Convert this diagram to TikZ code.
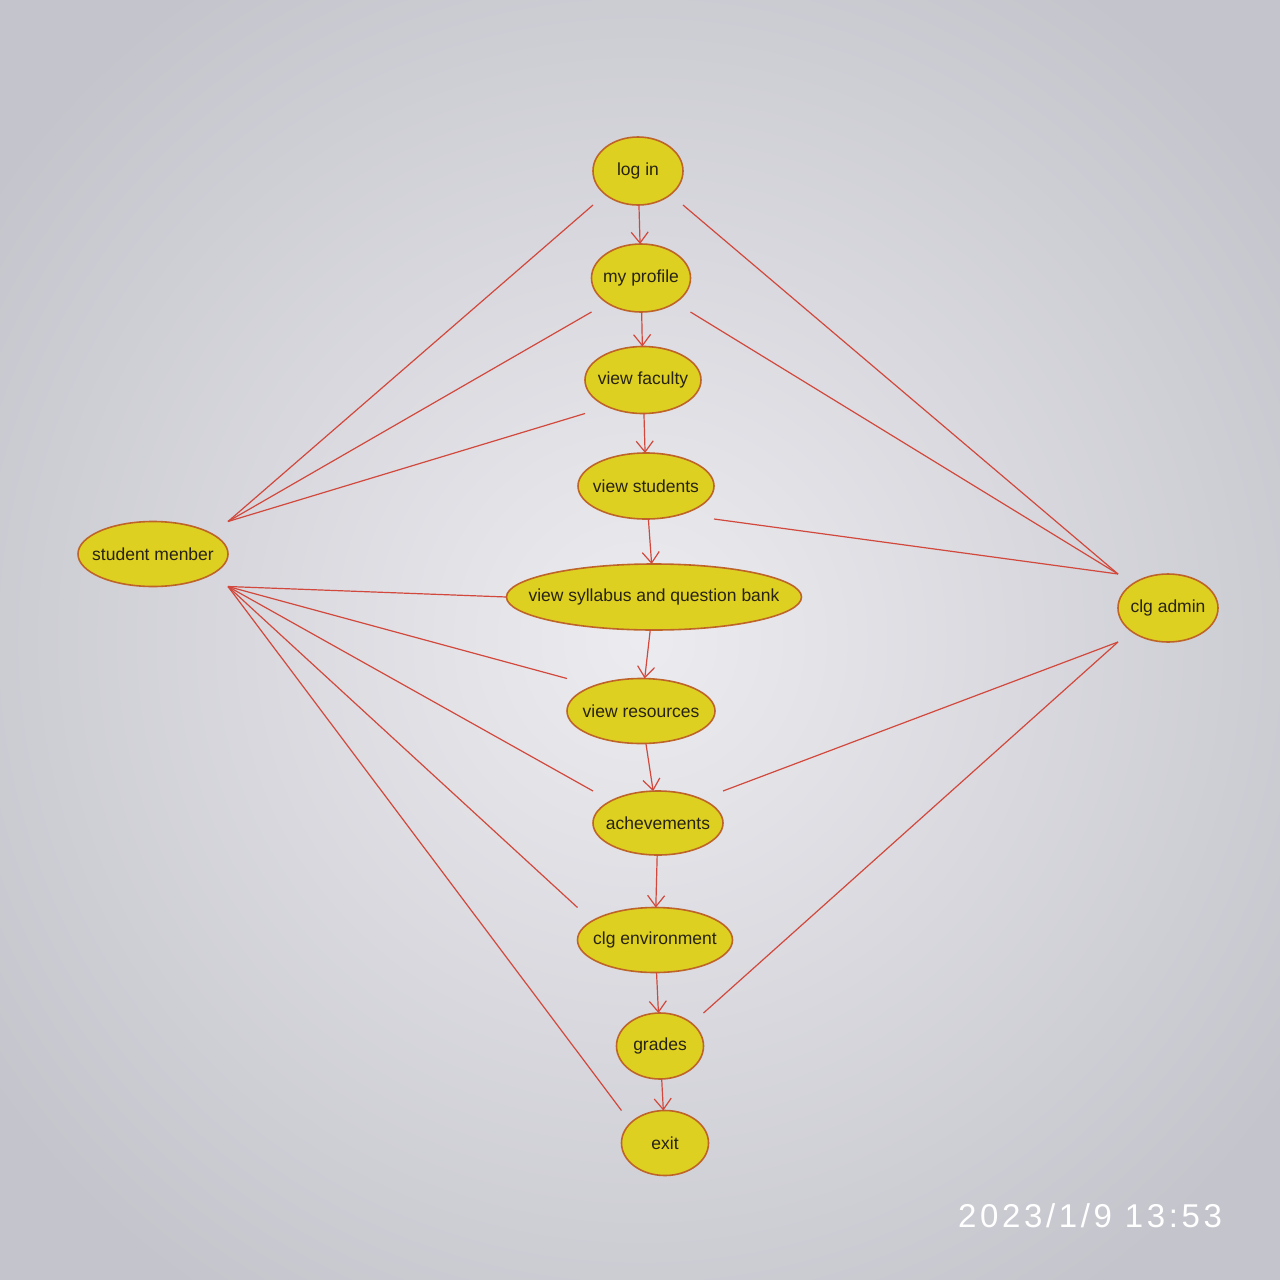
\documentclass[tikz,border=0pt]{standalone}
\usepackage{fontspec}
\setmainfont{Liberation Sans}
\newfontfamily\stampfont[LetterSpace=11]{Liberation Sans}
\usetikzlibrary{shapes.geometric,arrows.meta,calc}
\definecolor{ucfill}{RGB}{222,208,32}
\definecolor{ucdraw}{RGB}{190,100,40}
\definecolor{linkred}{RGB}{210,72,60}
\definecolor{bgin}{RGB}{236,236,240}
\definecolor{bgout}{RGB}{196,196,204}
\definecolor{txt}{RGB}{40,35,20}
\newcommand\zt[1]{\makebox[0pt]{#1}}
\begin{document}
\begin{tikzpicture}[x=1pt,y=-1pt,
  uc/.style={ellipse,draw=ucdraw,line width=1.6pt,fill=ucfill,inner sep=0pt,outer sep=0pt,
    font=\fontsize{17.5}{18}\selectfont,text=txt},
  link/.style={draw=linkred,line width=1.2pt},
  flow/.style={link,-{Straight Barb[length=11pt,width=17pt,line width=1.2pt]}}]
\useasboundingbox (0,0) rectangle (1280,1280);
\shade[inner color=bgin,outer color=bgout] (-150,-150) rectangle (1430,1430);

\node[uc,minimum width=90pt,minimum height=68pt] (login) at (638,171) {\zt{log in}};
\node[uc,minimum width=99pt,minimum height=68pt] (profile) at (641,278) {\zt{my profile}};
\node[uc,minimum width=116pt,minimum height=67pt] (faculty) at (643,380) {\zt{view faculty}};
\node[uc,minimum width=136pt,minimum height=66pt] (students) at (646,486) {\zt{view students}};
\node[uc,minimum width=295pt,minimum height=66pt] (syllabus) at (654,597) {\zt{view syllabus and question bank}};
\node[uc,minimum width=148pt,minimum height=65pt] (resources) at (641,711) {\zt{view resources}};
\node[uc,minimum width=130pt,minimum height=64pt] (achieve) at (658,823) {\zt{achevements}};
\node[uc,minimum width=155pt,minimum height=65pt] (env) at (655,940) {\zt{clg environment}};
\node[uc,minimum width=87pt,minimum height=66pt] (grades) at (660,1046) {\zt{grades}};
\node[uc,minimum width=87pt,minimum height=65pt] (exit) at (665,1143) {\zt{exit}};
\node[uc,minimum width=150pt,minimum height=65pt] (student) at (153,554) {\zt{student menber}};
\node[uc,minimum width=100pt,minimum height=68pt] (admin) at (1168,608) {\zt{clg admin}};

\node[text=white,font=\stampfont\fontsize{33}{33}\selectfont,anchor=west,inner sep=0pt] (stamp) at (958,1216) {2023/1/9 13:53};

% flow arrows
\draw[flow] (login) -- (profile);
\draw[flow] (profile) -- (faculty);
\draw[flow] (faculty) -- (students);
\draw[flow] (students) -- (syllabus);
\draw[flow] (syllabus) -- (resources);
\draw[flow] (resources) -- (achieve);
\draw[flow] (achieve) -- (env);
\draw[flow] (env) -- (grades);
\draw[flow] (grades) -- (exit);

% student member associations
\coordinate (sNE) at (student.north -| student.east);
\coordinate (sSE) at (student.south -| student.east);
\draw[link] (sNE) -- (login.south -| login.west);
\draw[link] (sNE) -- (profile.south -| profile.west);
\draw[link] (sNE) -- (faculty.south -| faculty.west);
\draw[link] (sSE) -- (syllabus.west);
\draw[link] (sSE) -- (resources.north -| resources.west);
\draw[link] (sSE) -- (achieve.north -| achieve.west);
\draw[link] (sSE) -- (env.north -| env.west);
\draw[link] (sSE) -- (exit.north -| exit.west);

% clg admin associations
\coordinate (aNW) at (admin.north -| admin.west);
\coordinate (aSW) at (admin.south -| admin.west);
\draw[link] (aNW) -- (login.south -| login.east);
\draw[link] (aNW) -- (profile.south -| profile.east);
\draw[link] (aNW) -- (students.south -| students.east);
\draw[link] (aSW) -- (achieve.north -| achieve.east);
\draw[link] (aSW) -- (grades.north -| grades.east);
\end{tikzpicture}
\end{document}
